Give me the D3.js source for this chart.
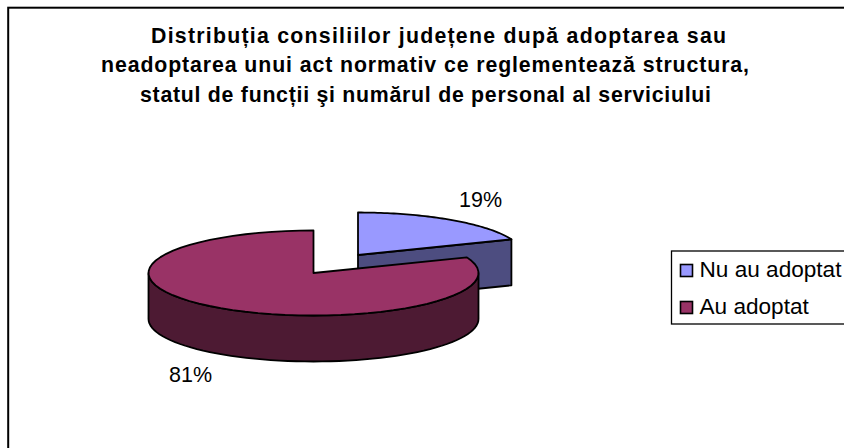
<!DOCTYPE html>
<html><head><meta charset="utf-8">
<script src="https://cdn.jsdelivr.net/npm/d3@7"></script>
<style>html,body{margin:0;background:#fff}svg{display:block}text{font-family:"Liberation Sans",Arial,sans-serif;fill:#000}</style>
</head><body><script>
const categories = ["Nu au adoptat", "Au adoptat"];
const values = [19, 81];
const valueLabels = ["19%", "81%"];
const topColors = ["#9999ff", "#993366"];
const sideColors = ["#4d4d80", "#4d1a33"];
const titleLines = ["Distribuția consiliilor județene după adoptarea sau",
  "neadoptarea unui act normativ ce reglementează structura,",
  "statul de funcții şi numărul de personal al serviciului"];
const titleWidths = [575, 648, 571];
const titleCenters = [438.5, 425, 425.5];

const svg = d3.select("body").append("svg").attr("width", 844).attr("height", 448);
svg.append("rect").attr("x", 8.2).attr("y", 7.7).attr("width", 900).attr("height", 600)
  .attr("fill", "#fff").attr("stroke", "#000").attr("stroke-width", 2);

const rx = 165, ry = 42.5, depth = 46;
const centers = [[358, 255], [313.5, 273]];
const arcs = d3.pie().value(d => d).sort(null)(values);
const pt = (i, a, dy = 0) => [centers[i][0] + rx * Math.sin(a), centers[i][1] - ry * Math.cos(a) + dy];
const samples = (a0, a1) => d3.range(0, 61).map(k => a0 + (a1 - a0) * k / 60);
const line = d3.line();
const stroke = s => s.attr("stroke", "#000").attr("stroke-width", 1.8).attr("stroke-linejoin", "round");

function topPath(i) {
  const a = arcs[i];
  return line([centers[i], ...samples(a.startAngle, a.endAngle).map(t => pt(i, t))]) + "Z";
}
// back slice: cut face, then top
const b = arcs[0];
svg.append("path").attr("d", line([centers[0], pt(0, b.endAngle), pt(0, b.endAngle, depth), [centers[0][0], centers[0][1] + depth]]) + "Z")
  .attr("fill", sideColors[0]).call(stroke);
svg.append("path").attr("d", topPath(0)).attr("fill", topColors[0]).call(stroke);

// front slice: outer wall, then top
const wall = samples(Math.PI / 2, 3 * Math.PI / 2);
svg.append("path").attr("d", line([...wall.map(t => pt(1, t)), ...wall.slice().reverse().map(t => pt(1, t, depth))]) + "Z")
  .attr("fill", sideColors[1]).call(stroke);
svg.append("path").attr("d", topPath(1)).attr("fill", topColors[1]).call(stroke);

// value labels
const labelPos = [[480.5, 207], [190.5, 381.5]];
svg.selectAll("text.val").data(valueLabels).join("text").attr("class", "val")
  .attr("x", (d, i) => labelPos[i][0]).attr("y", (d, i) => labelPos[i][1])
  .attr("text-anchor", "middle").attr("font-size", 21.5).text(d => d);

// title
svg.selectAll("text.title").data(titleLines).join("text").attr("class", "title")
  .attr("x", (d, i) => titleCenters[i]).attr("y", (d, i) => 43 + i * 29.3).attr("text-anchor", "middle")
  .attr("font-size", 21.3).attr("font-weight", "bold")
  .attr("textLength", (d, i) => titleWidths[i]).attr("lengthAdjust", "spacing").text(d => d);

// legend
svg.append("rect").attr("x", 671.5).attr("y", 251).attr("width", 200).attr("height", 73)
  .attr("fill", "#fff").attr("stroke", "#000").attr("stroke-width", 1.3);
const rows = svg.selectAll("g.row").data(categories).join("g").attr("class", "row")
  .attr("transform", (d, i) => `translate(680.5,${264.5 + i * 37})`);
rows.append("rect").attr("width", 12).attr("height", 12).attr("fill", (d, i) => topColors[i])
  .attr("stroke", "#000").attr("stroke-width", 1.6);
rows.append("text").attr("x", 19).attr("y", 12.3).attr("font-size", 22.6).text(d => d);
</script></body></html>
